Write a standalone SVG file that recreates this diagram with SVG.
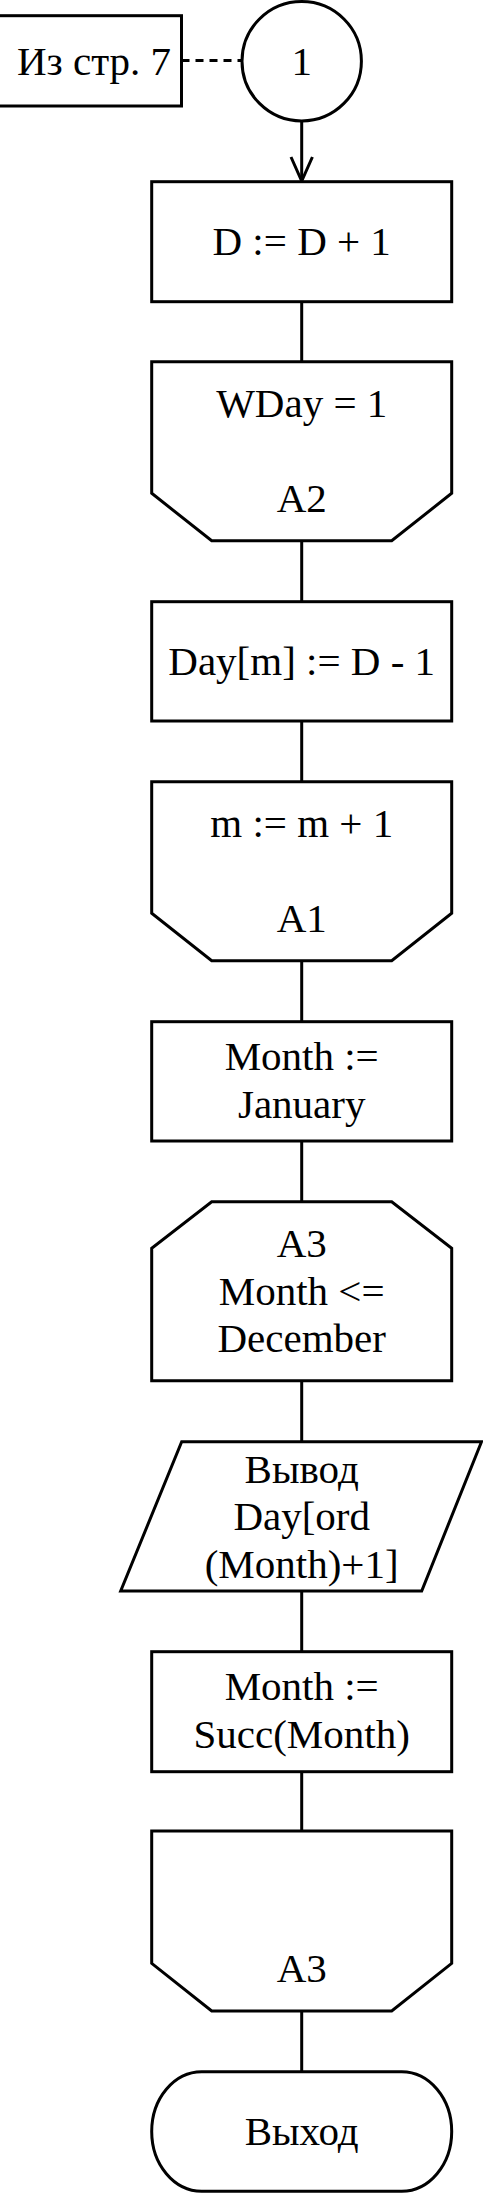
<svg xmlns="http://www.w3.org/2000/svg" width="483" height="2193" viewBox="0 0 483 2193">
<style>
.s{fill:#fff;stroke:#000;stroke-width:3}
.t{font-family:"Liberation Serif","Times New Roman",serif;font-size:41px;fill:#000;text-anchor:middle}
.c{fill:none;stroke:#000;stroke-width:3}
</style>
<defs>
<marker id="arr" markerUnits="userSpaceOnUse" markerWidth="26" markerHeight="30" refX="11" refY="25" orient="auto-start-reverse" viewBox="0 0 22 30">
<path d="M1,1 L11,25 L21,1" fill="none" stroke="#000" stroke-width="3"/>
</marker>
</defs>
<g id="connectors">
<line class="c" x1="181.5" y1="60.5" x2="241" y2="60.5" stroke-dasharray="8 6"/>
<path class="c" d="M301.7,121 V180"/>
<path d="M291,157 L301.7,181 L312.4,157" fill="none" stroke="#000" stroke-width="3"/>
<path class="c" d="M301.7,301.7 V361.7"/>
<path class="c" d="M301.7,540.7 V601.7"/>
<path class="c" d="M301.7,721 V781.7"/>
<path class="c" d="M301.7,960.7 V1021.7"/>
<path class="c" d="M301.7,1141 V1201.7"/>
<path class="c" d="M301.7,1380.7 V1441.7"/>
<path class="c" d="M301.7,1591 V1651.7"/>
<path class="c" d="M301.7,1771.7 V1831"/>
<path class="c" d="M301.7,2011 V2071.7"/>
</g>
<g id="from-page">
<rect class="s" x="-3" y="15.7" width="184.5" height="90.3"/>
<text class="t" x="94" y="75">Из стр. 7</text>
</g>
<g id="connector-1">
<circle class="s" cx="301.7" cy="61.2" r="59.7"/>
<text class="t" x="301.7" y="75">1</text>
</g>
<g id="d-inc">
<rect class="s" x="151.7" y="181.7" width="300" height="120"/>
<text class="t" x="301.7" y="255">D := D + 1</text>
</g>
<g id="loop-a2">
<polygon class="s" points="151.7,361.7 451.7,361.7 451.7,493.3 391.7,540.7 211.7,540.7 151.7,493.3"/>
<text class="t" x="301.7" y="416.7">WDay = 1</text>
<text class="t" x="301.7" y="512.3">A2</text>
</g>
<g id="day-assign">
<rect class="s" x="151.7" y="601.7" width="300" height="119.3"/>
<text class="t" x="301.7" y="675">Day[m] := D - 1</text>
</g>
<g id="loop-a1">
<polygon class="s" points="151.7,781.7 451.7,781.7 451.7,913.3 391.7,960.7 211.7,960.7 151.7,913.3"/>
<text class="t" x="301.7" y="836.7">m := m + 1</text>
<text class="t" x="301.7" y="932.3">A1</text>
</g>
<g id="month-jan">
<rect class="s" x="151.7" y="1021.7" width="300" height="119.3"/>
<text class="t" x="301.7" y="1070">Month :=</text>
<text class="t" x="301.7" y="1118.3">January</text>
</g>
<g id="loop-a3-begin">
<polygon class="s" points="211.7,1201.7 391.7,1201.7 451.7,1248.3 451.7,1380.7 151.7,1380.7 151.7,1248.3"/>
<text class="t" x="301.7" y="1256.7">A3</text>
<text class="t" x="301.7" y="1305">Month &lt;=</text>
<text class="t" x="301.7" y="1352.3">December</text>
</g>
<g id="output">
<polygon class="s" points="181.7,1441.7 481.5,1441.7 421.7,1591 120.7,1591"/>
<text class="t" x="301.7" y="1483.3">Вывод</text>
<text class="t" x="301.7" y="1530">Day[ord</text>
<text class="t" x="301.7" y="1578.3">(Month)+1]</text>
</g>
<g id="month-succ">
<rect class="s" x="151.7" y="1651.7" width="300" height="120"/>
<text class="t" x="301.7" y="1700">Month :=</text>
<text class="t" x="301.7" y="1748.3">Succ(Month)</text>
</g>
<g id="loop-a3-end">
<polygon class="s" points="151.7,1831 451.7,1831 451.7,1963.3 391.7,2011 211.7,2011 151.7,1963.3"/>
<text class="t" x="301.7" y="1981.7">A3</text>
</g>
<g id="exit">
<rect class="s" x="151.7" y="2071.7" width="300" height="119.5" rx="50" ry="59.7"/>
<text class="t" x="301.7" y="2145">Выход</text>
</g>
</svg>
